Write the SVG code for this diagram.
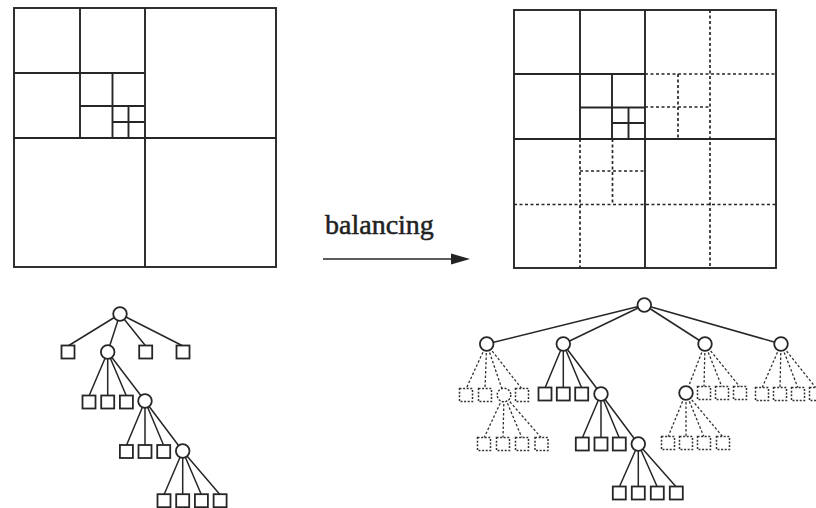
<svg xmlns="http://www.w3.org/2000/svg" width="816" height="508" viewBox="0 0 816 508">
<style>
.q{stroke:#262626;stroke-width:1.9;fill:none}
.qd{stroke:#262626;stroke-width:1.7;fill:none;stroke-dasharray:3 2.5}
.e{stroke:#262626;stroke-width:1.5;fill:none}
.ed{stroke:#333;stroke-width:1.3;fill:none;stroke-dasharray:2.5 2}
.c{stroke:#262626;stroke-width:1.8;fill:#fff}
.cd{stroke:#333;stroke-width:1.5;fill:#fff;stroke-dasharray:2 1.6}
.t{font-family:"Liberation Serif","Times New Roman",serif;font-size:28px;fill:#222;stroke:#222;stroke-width:0.5}
</style>
<defs>
<rect id="sq" x="-6.5" y="-6.5" width="13" height="13"/>
</defs>
<rect width="816" height="508" fill="#fff"/>

<g id="quadtree-left">
<rect class="q" x="14" y="8" width="262" height="259"/>
<path class="q" d="M145 8V267M14 138H276M80 8V138M14 73H145M112.5 73V138M80 106H145M128.5 106V138M112.5 122H145"/>
</g>

<g id="quadtree-right">
<rect class="q" x="514" y="10" width="262" height="258"/>
<path class="q" d="M645 10V268M514 139H776M580 10V139M514 74H645M612 74V139M580 107.5H645M628.5 107.5V139M612 123H645"/>
<path class="qd" d="M710 10V268M645 74H776M678 74V139M645 107H710M514 204.5H776M580 139V268M612.5 139V204.5M580 171H645"/>
</g>

<g id="label">
<text class="t" x="325" y="234">balancing</text>
</g>

<g id="connectors">
<line class="e" x1="323" y1="259" x2="456" y2="259"/>
<polygon points="470,259 451,253.5 451,264.5" fill="#222"/>
<path class="e" d="M120 314L68 346M120 314L107.7 352M120 314L145.7 346M120 314L183 346
M107.7 352L89 396M107.7 352L107.7 396M107.7 352L126.4 396M107.7 352L145 401
M145 401L126.4 445.5M145 401L145 445.5M145 401L163.7 445.5M145 401L182.7 451
M182.7 451L164 494.7M182.7 451L182.7 494.7M182.7 451L201.4 494.7M182.7 451L220.1 494.7"/>
<path class="e" d="M644.3 305L486.7 344M644.3 305L563.3 344M644.3 305L705 344M644.3 305L781 344
M563.3 344L545 388M563.3 344L563.3 388M563.3 344L581.7 388M563.3 344L601 394
M601 394L582.3 438M601 394L601 438M601 394L619.3 438M601 394L638.3 444
M638.3 444L619.3 487M638.3 444L638.3 487M638.3 444L657.3 487M638.3 444L676.3 487"/>
<path class="ed" d="M486.7 344L466 389M486.7 344L485 389M486.7 344L504 395M486.7 344L522 389
M504 395L484 438M504 395L503 438M504 395L522 438M504 395L541.5 438
M705 344L686 393M705 344L704 387M705 344L722 387M705 344L740 387
M686 393L668 437M686 393L686 437M686 393L704 437M686 393L723 437
M781 344L762 388M781 344L780 388M781 344L798 388M781 344L816 388"/>
</g>

<g id="left-tree">
<circle id="l-n0" class="c" cx="120" cy="314" r="6.8"/>
<use id="l-s1" class="c" href="#sq" x="68" y="352"/>
<circle id="l-n1" class="c" cx="107.7" cy="352" r="6.8"/>
<use id="l-s2" class="c" href="#sq" x="145.7" y="352"/>
<use id="l-s3" class="c" href="#sq" x="183" y="352"/>
<use id="l-s4" class="c" href="#sq" x="89" y="402"/>
<use id="l-s5" class="c" href="#sq" x="107.7" y="402"/>
<use id="l-s6" class="c" href="#sq" x="126.4" y="402"/>
<circle id="l-n2" class="c" cx="145" cy="401" r="6.8"/>
<use id="l-s7" class="c" href="#sq" x="126.4" y="451.5"/>
<use id="l-s8" class="c" href="#sq" x="145" y="451.5"/>
<use id="l-s9" class="c" href="#sq" x="163.7" y="451.5"/>
<circle id="l-n3" class="c" cx="182.7" cy="451" r="6.8"/>
<use id="l-s10" class="c" href="#sq" x="164" y="500.7"/>
<use id="l-s11" class="c" href="#sq" x="182.7" y="500.7"/>
<use id="l-s12" class="c" href="#sq" x="201.4" y="500.7"/>
<use id="l-s13" class="c" href="#sq" x="220.1" y="500.7"/>
</g>

<g id="right-tree">
<circle id="r-n0" class="c" cx="644.3" cy="305" r="6.8"/>
<circle id="r-n1" class="c" cx="486.7" cy="344" r="6.8"/>
<circle id="r-n2" class="c" cx="563.3" cy="344" r="6.8"/>
<circle id="r-n3" class="c" cx="705" cy="344" r="6.8"/>
<circle id="r-n4" class="c" cx="781" cy="344" r="6.8"/>
<use id="r-d1" class="cd" href="#sq" x="466" y="395"/>
<use id="r-d2" class="cd" href="#sq" x="485" y="395"/>
<circle id="r-d3" class="cd" cx="504" cy="395" r="6.8"/>
<use id="r-d4" class="cd" href="#sq" x="522" y="395"/>
<use id="r-d5" class="cd" href="#sq" x="484" y="444"/>
<use id="r-d6" class="cd" href="#sq" x="503" y="444"/>
<use id="r-d7" class="cd" href="#sq" x="522" y="444"/>
<use id="r-d8" class="cd" href="#sq" x="541.5" y="444"/>
<use id="r-s1" class="c" href="#sq" x="545" y="394"/>
<use id="r-s2" class="c" href="#sq" x="563.3" y="394"/>
<use id="r-s3" class="c" href="#sq" x="581.7" y="394"/>
<circle id="r-n5" class="c" cx="601" cy="394" r="6.8"/>
<use id="r-s4" class="c" href="#sq" x="582.3" y="444"/>
<use id="r-s5" class="c" href="#sq" x="601" y="444"/>
<use id="r-s6" class="c" href="#sq" x="619.3" y="444"/>
<circle id="r-n6" class="c" cx="638.3" cy="444" r="6.8"/>
<use id="r-s7" class="c" href="#sq" x="619.3" y="493"/>
<use id="r-s8" class="c" href="#sq" x="638.3" y="493"/>
<use id="r-s9" class="c" href="#sq" x="657.3" y="493"/>
<use id="r-s10" class="c" href="#sq" x="676.3" y="493"/>
<circle id="r-n7" class="c" cx="686" cy="393" r="6.8"/>
<use id="r-d9" class="cd" href="#sq" x="704" y="393"/>
<use id="r-d10" class="cd" href="#sq" x="722" y="393"/>
<use id="r-d11" class="cd" href="#sq" x="740" y="393"/>
<use id="r-d12" class="cd" href="#sq" x="668" y="443"/>
<use id="r-d13" class="cd" href="#sq" x="686" y="443"/>
<use id="r-d14" class="cd" href="#sq" x="704" y="443"/>
<use id="r-d15" class="cd" href="#sq" x="723" y="443"/>
<use id="r-d16" class="cd" href="#sq" x="762" y="394"/>
<use id="r-d17" class="cd" href="#sq" x="780" y="394"/>
<use id="r-d18" class="cd" href="#sq" x="798" y="394"/>
<use id="r-d19" class="cd" href="#sq" x="816" y="394"/>
</g>
</svg>
